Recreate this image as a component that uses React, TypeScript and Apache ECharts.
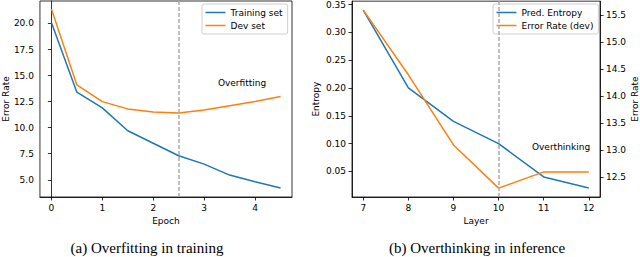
import React, { useEffect, useRef } from "react";
import * as echarts from "echarts";

const epochs = [0, 0.5, 1, 1.5, 2, 2.5, 3, 3.5, 4, 4.5];
const trainingErr = [20.1, 13.4, 11.9, 9.7, 8.5, 7.3, 6.5, 5.45, 4.8, 4.2];
const devErr = [21.4, 14.1, 12.5, 11.8, 11.5, 11.4, 11.7, 12.1, 12.5, 13.0];

const layers = [7, 8, 9, 10, 11, 12];
const predEntropy = [0.34, 0.2, 0.14, 0.1, 0.04, 0.02];
const devErrLayer = [15.6, 14.4, 13.1, 12.3, 12.6, 12.6];

const epochTicks = [0, 1, 2, 3, 4];
const errTicksA = [5, 7.5, 10, 12.5, 15, 17.5, 20];
const layerTicks = [7, 8, 9, 10, 11, 12];
const entropyTicks = [0.05, 0.1, 0.15, 0.2, 0.25, 0.3, 0.35];
const errTicksB = [12.5, 13, 13.5, 14, 14.5, 15, 15.5];

const FONT = "DejaVu Sans";
const BLUE = "#1f77b4";
const ORANGE = "#ff7f0e";

function zip(xs: number[], ys: number[]) {
  return xs.map((x, i) => [x, ys[i]]);
}

export default function App() {
  const ref = useRef<HTMLDivElement>(null);
  useEffect(() => {
    const chart = echarts.init(ref.current!, null, { renderer: "svg" });
    const tick = { show: true, inside: false, length: 3.5, lineStyle: { color: "#000", width: 0.8 } };
    const axisLine = { show: true, lineStyle: { color: "#000", width: 0.8 } };
    const lbl = (vals: number[], d: number) => ({
      customValues: vals,
      formatter: (v: number) => v.toFixed(d),
      fontFamily: FONT,
      fontSize: 9,
      color: "#000",
      margin: 6,
    });
    const nameStyle = { fontFamily: FONT, fontSize: 9, color: "#000" };
    const legendBase = {
      orient: "vertical" as const,
      top: 4,
      padding: [3, 5, 3, 3.5],
      itemGap: 2,
      itemWidth: 20,
      itemHeight: 1.5,
      icon: "rect",
      borderColor: "#d0d0d0",
      borderWidth: 1,
      borderRadius: 2,
      backgroundColor: "rgba(255,255,255,0.8)",
      textStyle: { fontFamily: FONT, fontSize: 9, color: "#000", lineHeight: 11 },
    };
    const vline = (x: number) => ({
      silent: true,
      symbol: "none",
      label: { show: false },
      lineStyle: { color: "#aaaaaa", type: [4, 2], width: 1.5 },
      data: [{ xAxis: x }],
    });
    const textMark = (coord: number[], text: string) => ({
      symbol: "circle",
      symbolSize: 0,
      silent: true,
      label: {
        show: true,
        position: "inside",
        formatter: text,
        align: "left",
        verticalAlign: "middle",
        fontFamily: FONT,
        fontSize: 9,
        color: "#000",
      },
      data: [{ coord }],
    });
    chart.setOption({
      animation: false,
      grid: [
        { left: 39, top: 1, width: 253, height: 196, show: true, borderColor: "#000", borderWidth: 0.8 },
        { left: 352, top: 1, width: 251, height: 196, show: true, borderColor: "#000", borderWidth: 0.8 },
      ],
      xAxis: [
        {
          type: "value", gridIndex: 0, min: -0.225, max: 4.725,
          axisLine, axisTick: { ...tick, customValues: epochTicks }, axisLabel: lbl(epochTicks, 0),
          splitLine: { show: false },
          name: "Epoch", nameLocation: "middle", nameGap: 17, nameTextStyle: nameStyle,
        },
        {
          type: "value", gridIndex: 1, min: 6.75, max: 12.25,
          axisLine, axisTick: { ...tick, customValues: layerTicks }, axisLabel: lbl(layerTicks, 0),
          splitLine: { show: false },
          name: "Layer", nameLocation: "middle", nameGap: 17, nameTextStyle: nameStyle,
        },
      ],
      yAxis: [
        {
          type: "value", gridIndex: 0, min: 3.345, max: 22.155,
          axisLine, axisTick: { ...tick, customValues: errTicksA }, axisLabel: lbl(errTicksA, 1),
          splitLine: { show: false },
          name: "Error Rate", nameLocation: "middle", nameGap: 28, nameRotate: 90, nameTextStyle: nameStyle,
        },
        {
          type: "value", gridIndex: 1, min: 0.004, max: 0.356,
          axisLine, axisTick: { ...tick, customValues: entropyTicks }, axisLabel: lbl(entropyTicks, 2),
          splitLine: { show: false },
          name: "Entropy", nameLocation: "middle", nameGap: 32, nameRotate: 90, nameTextStyle: nameStyle,
        },
        {
          type: "value", gridIndex: 1, position: "right", min: 12.135, max: 15.765,
          axisLine, axisTick: { ...tick, customValues: errTicksB }, axisLabel: lbl(errTicksB, 1),
          splitLine: { show: false },
          name: "Error Rate", nameLocation: "middle", nameGap: 28, nameRotate: 90, nameTextStyle: nameStyle,
        },
      ],
      legend: [
        { ...legendBase, left: 202, data: ["Training set", "Dev set"] },
        { ...legendBase, left: 493, data: ["Pred. Entropy", "Error Rate (dev)"] },
      ],
      series: [
        {
          name: "Training set", type: "line", xAxisIndex: 0, yAxisIndex: 0,
          data: zip(epochs, trainingErr), symbol: "none", lineStyle: { color: BLUE, width: 1.5 }, itemStyle: { color: BLUE },
          markLine: vline(2.5),
          markPoint: textMark([3.27, 14.33], "Overfitting"),
        },
        {
          name: "Dev set", type: "line", xAxisIndex: 0, yAxisIndex: 0, z: 3,
          data: zip(epochs, devErr), symbol: "none", lineStyle: { color: ORANGE, width: 1.5 }, itemStyle: { color: ORANGE },
        },
        {
          name: "Pred. Entropy", type: "line", xAxisIndex: 1, yAxisIndex: 1,
          data: zip(layers, predEntropy), symbol: "none", lineStyle: { color: BLUE, width: 1.5 }, itemStyle: { color: BLUE },
          markLine: vline(10),
          markPoint: textMark([10.74, 0.094], "Overthinking"),
        },
        {
          name: "Error Rate (dev)", type: "line", xAxisIndex: 1, yAxisIndex: 2, z: 3,
          data: zip(layers, devErrLayer), symbol: "none", lineStyle: { color: ORANGE, width: 1.5 }, itemStyle: { color: ORANGE },
        },
      ],
      graphic: [
        {
          type: "text", style: {
            text: "(a) Overfitting in training", x: 147, y: 248, align: "center", verticalAlign: "middle",
            font: "15px 'Liberation Serif', 'Times New Roman', serif", fill: "#000",
          },
        },
        {
          type: "text", style: {
            text: "(b) Overthinking in inference", x: 477, y: 248, align: "center", verticalAlign: "middle",
            font: "15px 'Liberation Serif', 'Times New Roman', serif", fill: "#000",
          },
        },
      ],
    });
    return () => chart.dispose();
  }, []);
  return <div ref={ref} style={{ position: "absolute", left: 0, top: 0, width: 640, height: 257, background: "#fff" }} />;
}
